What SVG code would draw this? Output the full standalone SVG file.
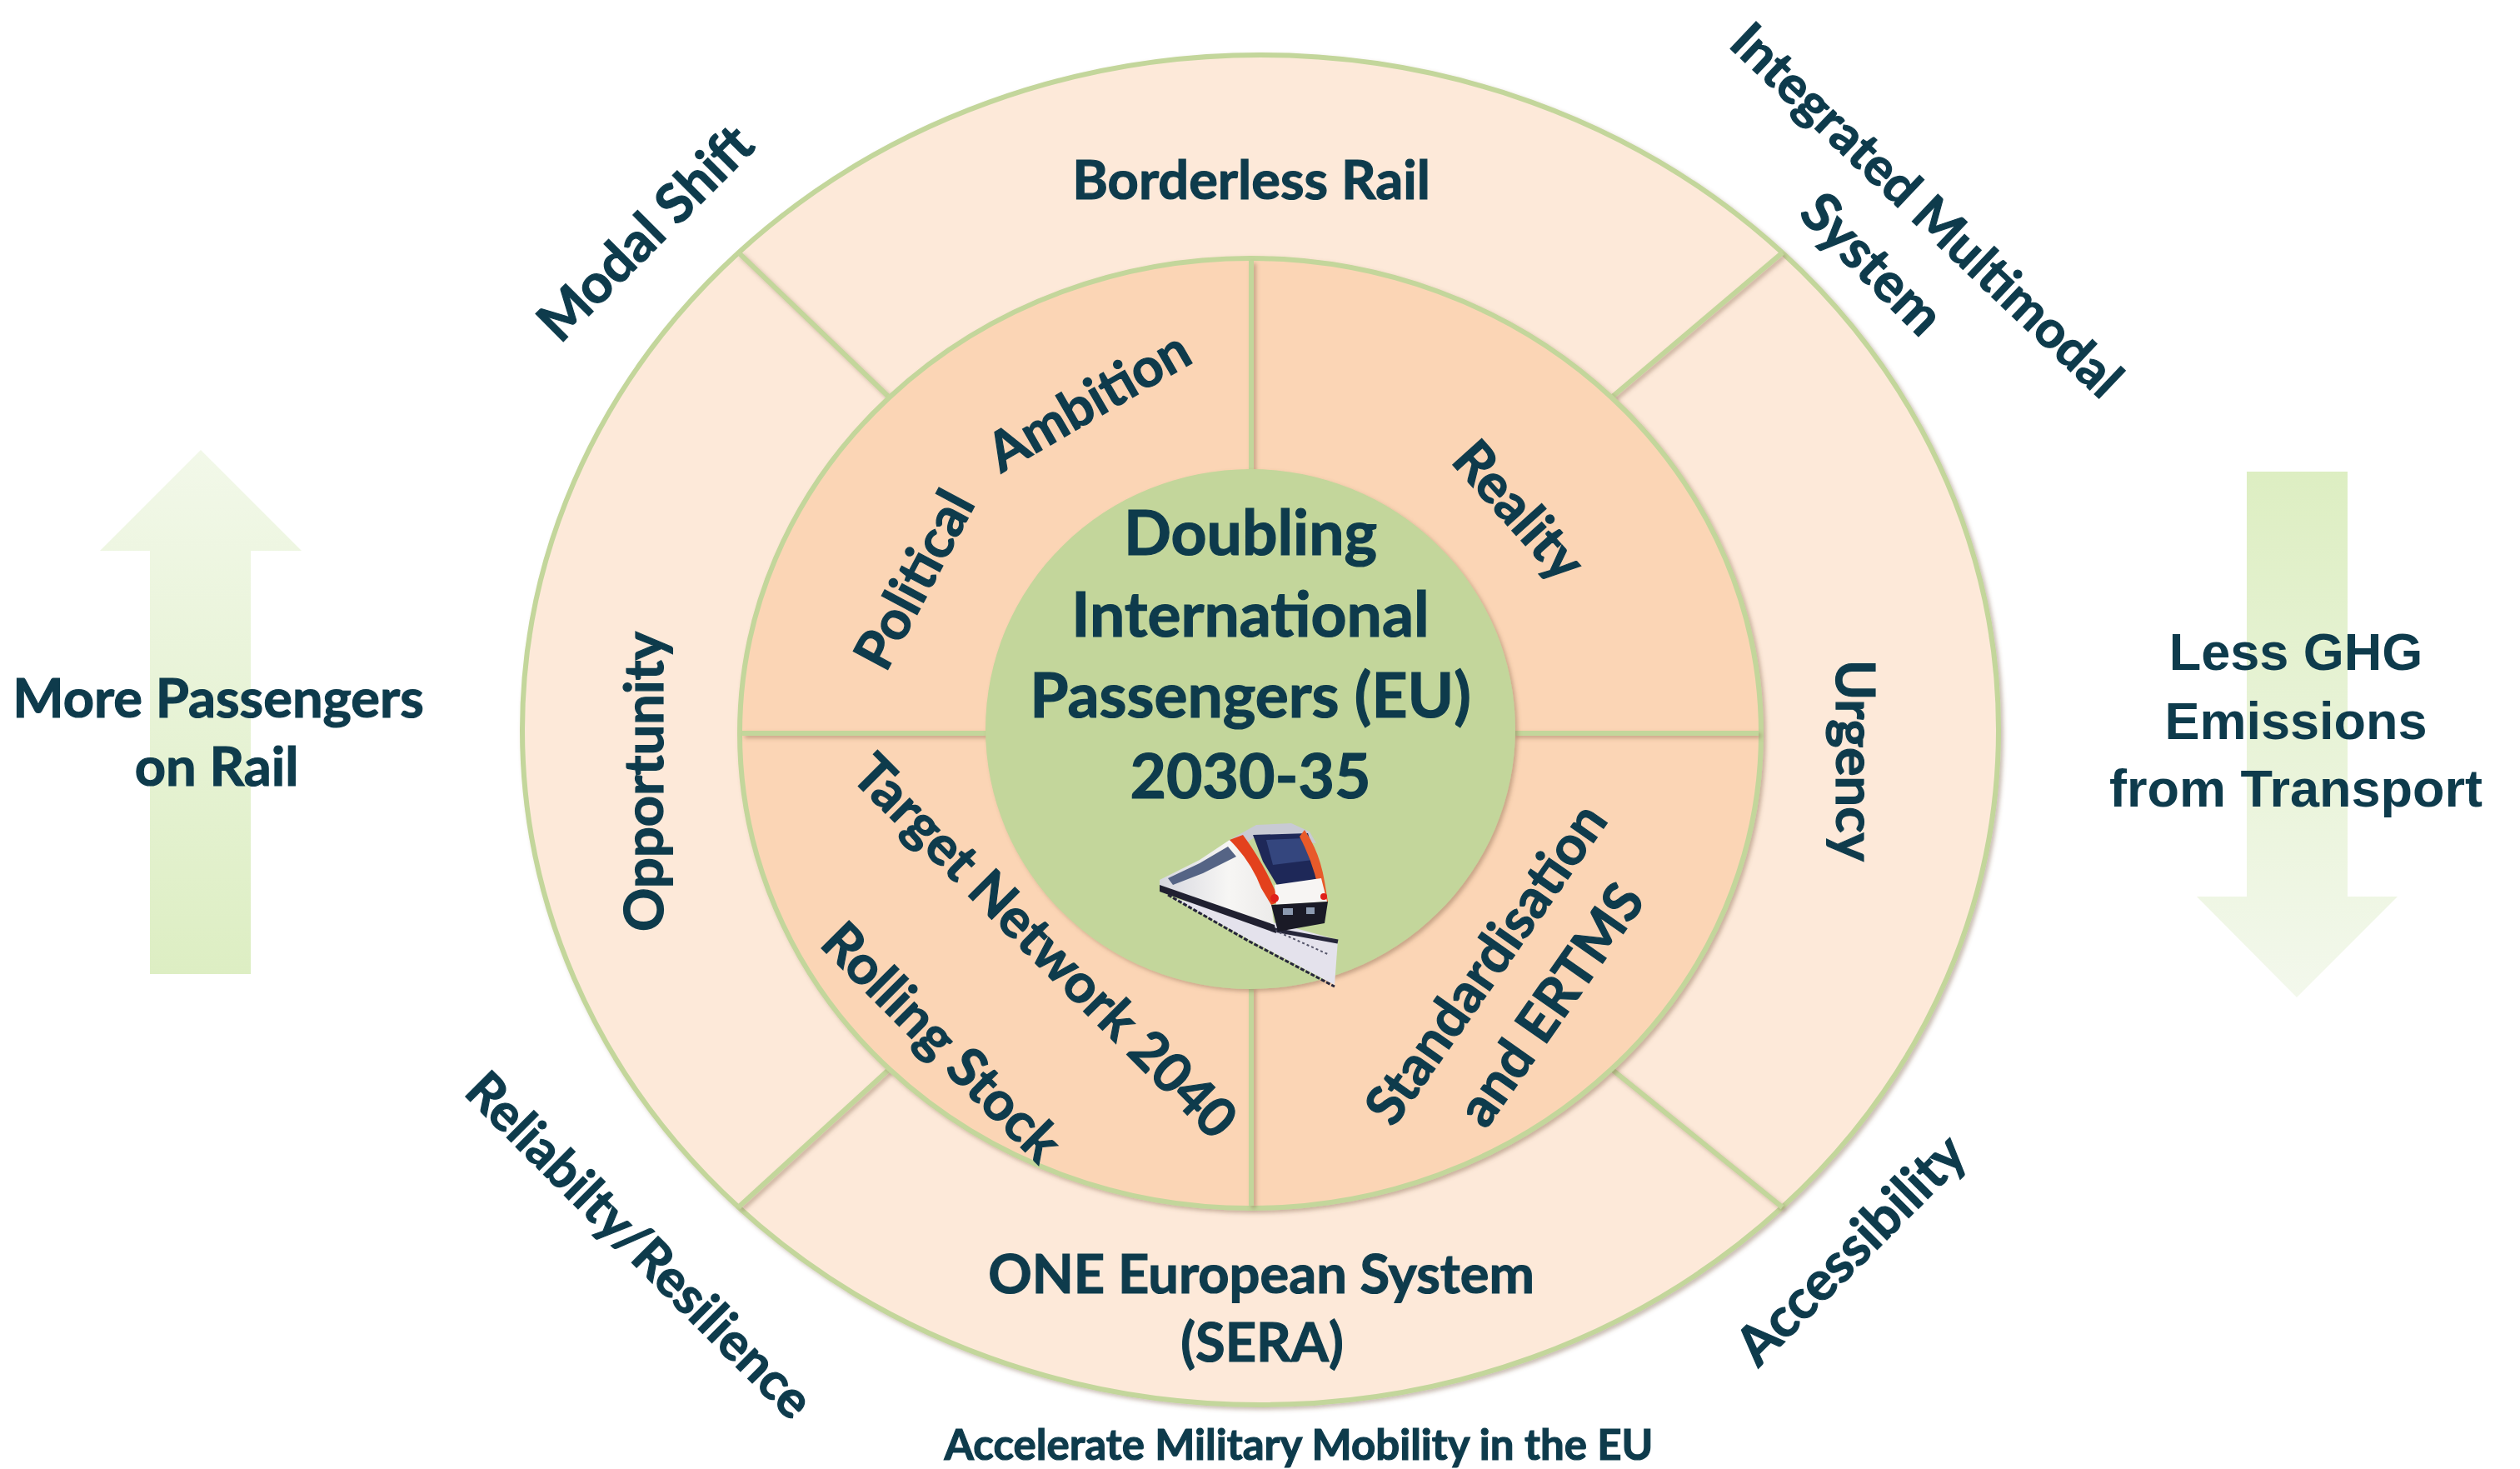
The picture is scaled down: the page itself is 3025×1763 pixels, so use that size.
<svg xmlns="http://www.w3.org/2000/svg" width="3025" height="1763" viewBox="0 0 3025 1763">
  <defs>
    <style>
      .lbl { font-family: Lato, "Open Sans", "Liberation Sans", sans-serif; font-weight: 700; fill: #0E3B4C; stroke: #0E3B4C; stroke-width: 1.2px; text-anchor: middle; }
      .ring { font-size: 65px; }
      .hub { font-size: 75px; }
      .foot { font-size: 51px; }
      .ghg { font-family: "Liberation Sans", Arial, sans-serif; font-weight: 700; font-size: 63px; fill: #0E3B4C; text-anchor: middle; }
      .div { stroke: #C3D69B; stroke-width: 6; fill: none; stroke-linecap: butt; }
    </style>
    <filter id="shadow" x="-10%" y="-10%" width="120%" height="120%">
      <feGaussianBlur in="SourceAlpha" stdDeviation="2.5" result="b"/>
      <feOffset in="b" dx="3" dy="3" result="o"/>
      <feFlood flood-color="#7C5C43" flood-opacity="0.4"/>
      <feComposite in2="o" operator="in" result="s"/>
      <feMerge><feMergeNode in="s"/><feMergeNode in="SourceGraphic"/></feMerge>
    </filter>
    <linearGradient id="upGrad" x1="0" y1="1" x2="0" y2="0">
      <stop offset="0" stop-color="#DDEEC3"/>
      <stop offset="1" stop-color="#F2F8E9"/>
    </linearGradient>
    <linearGradient id="downGrad" x1="0" y1="0" x2="0" y2="1">
      <stop offset="0" stop-color="#DDEEC2"/>
      <stop offset="1" stop-color="#F3F8EC"/>
    </linearGradient>
    <linearGradient id="bodyGrad" x1="0" y1="0" x2="1" y2="0">
      <stop offset="0" stop-color="#D6D7DF"/>
      <stop offset="0.6" stop-color="#F7F6F4"/>
      <stop offset="1" stop-color="#ECEBEA"/>
    </linearGradient>
  </defs>

  <!-- side arrows -->
  <g id="arrow-passengers">
    <polygon points="241,540 362,661 301,661 301,1169 180,1169 180,661 120,661" fill="url(#upGrad)"/>
    <text class="lbl ring" x="262" y="861">More Passengers</text>
    <text class="lbl ring" x="260" y="943">on Rail</text>
  </g>
  <g id="arrow-emissions">
    <polygon points="2697,566 2818,566 2818,1076 2878,1076 2757,1197 2637,1076 2697,1076" fill="url(#downGrad)"/>
    <text class="ghg" x="2756" y="804">Less GHG</text>
    <text class="ghg" x="2756" y="887">Emissions</text>
    <text class="ghg" x="2756" y="968">from Transport</text>
  </g>

  <!-- outer ring -->
  <g id="outer-ring">
    <ellipse cx="1513" cy="876" rx="886" ry="810" fill="#FDE9D9" stroke="#C3D69B" stroke-width="6" filter="url(#shadow)"/>
  </g>

  <!-- ring dividers -->
  <g id="dividers" filter="url(#shadow)">
    <line class="div" x1="886.5" y1="303.2" x2="1067.6" y2="477"/>
    <line class="div" x1="2139.5" y1="303.2" x2="1934.4" y2="477"/>
    <line class="div" x1="886.5" y1="1448.8" x2="1067.6" y2="1283"/>
    <line class="div" x1="2139.5" y1="1448.8" x2="1934.4" y2="1283"/>
  </g>

  <!-- middle ring -->
  <g id="middle-ring">
    <ellipse cx="1501" cy="880" rx="613" ry="570" fill="#FBD5B5" stroke="#C3D69B" stroke-width="6" filter="url(#shadow)"/>
    <g filter="url(#shadow)">
      <line class="div" x1="1502" y1="313" x2="1502" y2="566"/>
      <line class="div" x1="1502" y1="1184" x2="1502" y2="1447"/>
      <line class="div" x1="891" y1="880" x2="1186" y2="880"/>
      <line class="div" x1="1816" y1="880" x2="2111" y2="880"/>
    </g>
  </g>

  <!-- hub -->
  <g id="hub">
    <ellipse cx="1501" cy="875" rx="318" ry="312" fill="#C3D69B" filter="url(#shadow)"/>
    <text class="lbl hub" x="1501" y="666">Doubling</text>
    <text class="lbl hub" x="1501" y="764">International</text>
    <text class="lbl hub" x="1501" y="861">Passengers (EU)</text>
    <text class="lbl hub" x="1501" y="958">2030-35</text>
  </g>

  <!-- train illustration -->
  <g id="train" transform="translate(1380,950)">
    <!-- ballast and rails -->
    <polygon points="28,128 120,178 222,232 226,178 168,162 80,140" fill="#E4E2EC"/>
    <polyline points="22,124 120,180 222,234" fill="none" stroke="#26263A" stroke-width="3" stroke-dasharray="5,2"/>
    <polyline points="150,166 226,180" fill="none" stroke="#26263A" stroke-width="5"/>
    <polyline points="60,134 140,162 216,196" fill="none" stroke="#55556A" stroke-width="2" stroke-dasharray="3,3"/>
    <!-- long side of the train -->
    <polygon points="12,106 60,82 96,58 110,66 126,96 146,134 150,164 12,116" fill="url(#bodyGrad)"/>
    <polygon points="22,104 60,86 94,66 104,78 64,98 28,112" fill="#556485"/>
    <polygon points="12,112 150,160 152,170 12,120" fill="#202030"/>
    <!-- roof and windscreen -->
    <polygon points="96,58 128,40 170,38 192,48 200,62 130,52 110,66" fill="#C8CAD4"/>
    <polygon points="124,52 190,50 206,104 154,114 136,84" fill="#1E2858"/>
    <polygon points="140,58 186,56 196,82 148,88" fill="#34467E"/>
    <!-- orange-red stripes -->
    <path d="M96,58 Q122,84 134,116 L146,136 L156,132 Q140,90 112,52 Z" fill="#E3411D"/>
    <path d="M186,46 Q204,72 210,108 L214,132 L205,132 Q200,92 180,54 Z" fill="#E85A2A"/>
    <!-- front lower panel and bumper -->
    <polygon points="150,112 206,104 213,132 152,136" fill="#F7F5F3"/>
    <circle cx="150" cy="128" r="5" fill="#E0201A"/>
    <circle cx="209" cy="126" r="4" fill="#E0201A"/>
    <polygon points="146,136 214,132 210,158 154,168" fill="#1A1A26"/>
    <rect x="160" y="140" width="12" height="8" fill="#8C9AB0"/>
    <rect x="188" y="139" width="10" height="8" fill="#8C9AB0"/>
  </g>

  <!-- outer ring labels -->
  <g id="label-borderless-rail"><text class="lbl ring" x="1502" y="239">Borderless Rail</text></g>
  <g id="label-opportunity" transform="translate(774,938) rotate(-90)"><text class="lbl ring" x="0" y="22">Opportunity</text></g>
  <g id="label-urgency" transform="translate(2226,913) rotate(90)"><text class="lbl ring" x="0" y="22">Urgency</text></g>
  <g id="label-one-european-system">
    <text class="lbl ring" x="1514" y="1552">ONE European System</text>
    <text class="lbl ring" x="1515" y="1634">(SERA)</text>
  </g>

  <!-- middle ring labels -->
  <g id="label-political" transform="translate(1098,696) rotate(-62)"><text class="lbl ring" x="0" y="22">Political</text></g>
  <g id="label-ambition" transform="translate(1307,482) rotate(-30)"><text class="lbl ring" x="0" y="22">Ambition</text></g>
  <g id="label-reality" transform="translate(1823,613) rotate(48)"><text class="lbl ring" x="0" y="22">Reality</text></g>
  <g id="label-target-network" transform="translate(1254,1136) rotate(45)"><text class="lbl ring" x="0" y="22">Target Network 2040</text></g>
  <g id="label-rolling-stock" transform="translate(1130,1251) rotate(45)"><text class="lbl ring" x="0" y="22">Rolling Stock</text></g>
  <g id="label-standardisation">
    <g transform="translate(1784,1157) rotate(-55)"><text class="lbl ring" x="0" y="22">Standardisation</text></g>
    <g transform="translate(1862,1206) rotate(-55)"><text class="lbl ring" x="0" y="22">and ERTMS</text></g>
  </g>

  <!-- outside corner labels -->
  <g id="label-modal-shift" transform="translate(775,280) rotate(-45)"><text class="lbl ring" x="0" y="22">Modal Shift</text></g>
  <g id="label-integrated-multimodal">
    <g transform="translate(2313,252) rotate(43.5)"><text class="lbl ring" x="0" y="22" style="font-size:62px">Integrated Multimodal</text></g>
    <g transform="translate(2247,317) rotate(45)"><text class="lbl ring" x="0" y="22">System</text></g>
  </g>
  <g id="label-reliability" transform="translate(768,1494) rotate(45)"><text class="lbl ring" x="0" y="22" style="font-size:62px">Reliabilty/Resilience</text></g>
  <g id="label-accessibility" transform="translate(2222,1500) rotate(-45)"><text class="lbl ring" x="0" y="22">Accessibility</text></g>

  <!-- footer -->
  <g id="label-military-mobility"><text class="lbl foot" x="1559" y="1752">Accelerate Military Mobility in the EU</text></g>
</svg>
